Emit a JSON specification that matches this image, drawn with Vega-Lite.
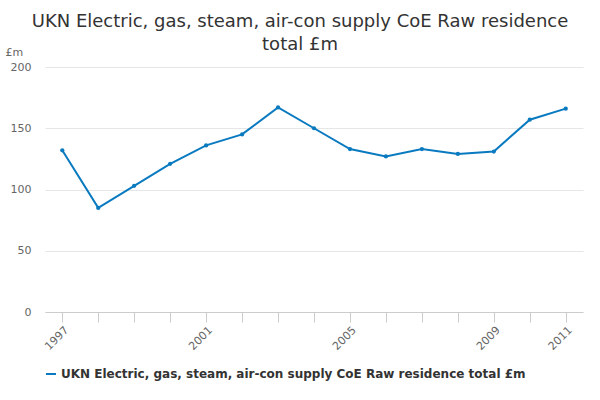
{
  "$schema": "https://vega.github.io/schema/vega-lite/v6.json",
  "autosize": "none",
  "width": 538,
  "height": 245,
  "padding": {"left": 45, "top": 67, "right": 17, "bottom": 88},
  "background": "white",
  "title": {
    "text": ["UKN Electric, gas, steam, air-con supply CoE Raw residence", "total £m"],
    "font": "DejaVu Sans", "fontSize": 18, "fontWeight": "normal", "color": "#333333",
    "anchor": "middle", "frame": "group", "dx": -14, "offset": -8, "lineHeight": 23
  },
  "data": {"values": [
    {"year": "1997", "v": 132, "s": "UKN Electric, gas, steam, air-con supply CoE Raw residence total £m"},
    {"year": "1998", "v": 85, "s": "UKN Electric, gas, steam, air-con supply CoE Raw residence total £m"},
    {"year": "1999", "v": 103, "s": "UKN Electric, gas, steam, air-con supply CoE Raw residence total £m"},
    {"year": "2000", "v": 121, "s": "UKN Electric, gas, steam, air-con supply CoE Raw residence total £m"},
    {"year": "2001", "v": 136, "s": "UKN Electric, gas, steam, air-con supply CoE Raw residence total £m"},
    {"year": "2002", "v": 145, "s": "UKN Electric, gas, steam, air-con supply CoE Raw residence total £m"},
    {"year": "2003", "v": 167, "s": "UKN Electric, gas, steam, air-con supply CoE Raw residence total £m"},
    {"year": "2004", "v": 150, "s": "UKN Electric, gas, steam, air-con supply CoE Raw residence total £m"},
    {"year": "2005", "v": 133, "s": "UKN Electric, gas, steam, air-con supply CoE Raw residence total £m"},
    {"year": "2006", "v": 127, "s": "UKN Electric, gas, steam, air-con supply CoE Raw residence total £m"},
    {"year": "2007", "v": 133, "s": "UKN Electric, gas, steam, air-con supply CoE Raw residence total £m"},
    {"year": "2008", "v": 129, "s": "UKN Electric, gas, steam, air-con supply CoE Raw residence total £m"},
    {"year": "2009", "v": 131, "s": "UKN Electric, gas, steam, air-con supply CoE Raw residence total £m"},
    {"year": "2010", "v": 157, "s": "UKN Electric, gas, steam, air-con supply CoE Raw residence total £m"},
    {"year": "2011", "v": 166, "s": "UKN Electric, gas, steam, air-con supply CoE Raw residence total £m"}
  ]},
  "mark": {"type": "line", "strokeWidth": 2, "point": {"size": 18, "filled": true}},
  "encoding": {
    "x": {"field": "year", "type": "ordinal",
      "scale": {"type": "point", "padding": 0.48},
      "axis": {"title": null, "labelAngle": -45, "labelAlign": "right", "labelBaseline": "top",
        "labelExpr": "indexof(['1997','2001','2005','2009','2011'], datum.value) >= 0 ? datum.value : ''",
        "labelFont": "DejaVu Sans", "labelFontSize": 11, "labelColor": "#666666",
        "domainColor": "#cccccc", "tickColor": "#cccccc", "tickSize": 10, "grid": false}},
    "y": {"field": "v", "type": "quantitative",
      "scale": {"domain": [0, 200]},
      "axis": {"title": "£m", "titleAngle": 0, "titleAnchor": "end", "titleAlign": "left", "titleX": -40, "titleY": -10,
        "titleFont": "DejaVu Sans", "titleFontSize": 11, "titleFontWeight": "normal", "titleColor": "#666666",
        "values": [0, 50, 100, 150, 200], "labelFont": "DejaVu Sans", "labelFontSize": 11, "labelColor": "#666666",
        "domain": false, "ticks": false, "labelPadding": 14, "gridColor": "#e6e6e6"}},
    "color": {"field": "s", "type": "nominal", "scale": {"range": ["#0a7ac0"]},
      "legend": {"title": null, "orient": "bottom", "direction": "horizontal", "offset": 16,
        "labelFont": "DejaVu Sans", "labelFontSize": 12, "labelFontWeight": "bold", "labelColor": "#333333",
        "labelLimit": 600, "symbolType": "stroke", "symbolStrokeWidth": 2}}
  },
  "config": {"view": {"stroke": null}}
}
